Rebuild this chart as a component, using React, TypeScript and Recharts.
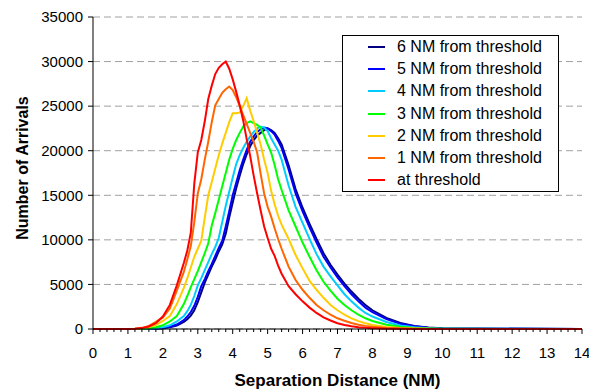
import { CartesianGrid, Legend, Line, LineChart, XAxis, YAxis } from 'recharts'

// Distância de separação (NM) — passo de 0.1 perto do pico, 0.2 nas caudas
const DIST = [
  0, 1, 1.2, 1.4, 1.6, 1.8, 2, 2.2, 2.4,
  2.6, 2.7, 2.8, 2.9, 3, 3.1, 3.2, 3.3, 3.4, 3.5, 3.6, 3.7, 3.8, 3.9, 4, 4.1, 4.2, 4.3, 4.4, 4.5, 4.6, 4.7, 4.8, 4.9, 5, 5.1, 5.2, 5.3, 5.4,
  5.6, 5.8, 6, 6.2, 6.4, 6.6, 6.8, 7, 7.2, 7.4, 7.6, 7.8, 8,
  8.4, 8.8, 9.2, 9.6, 10,
  14,
]

const NM6 = [
  0, 0, 0, 0, 10, 35, 90, 200, 390,
  800, 1100, 1500, 2100, 3000, 4100, 5200, 6100, 7000, 7800, 8700, 9500, 10700, 12500, 14200, 15800, 17200, 18500, 19600, 20500, 21200, 21700, 22000, 22300, 22500, 22300, 22000, 21400, 20700,
  18400, 15700, 13600, 11800, 10100, 8500, 7200, 6100, 5100, 4200, 3400, 2700, 2100,
  1250, 680, 350, 170, 80,
  0,
]

const NM5 = [
  0, 0, 0, 0, 15, 50, 120, 260, 500,
  1000, 1400, 1900, 2600, 3600, 4800, 5600, 6500, 7300, 8200, 9100, 9900, 11500, 13200, 15000, 16400, 17800, 19000, 20100, 21000, 21600, 22100, 22400, 22600, 22500, 22200, 21800, 21100, 20300,
  17900, 15200, 13200, 11400, 9700, 8100, 6900, 5800, 4800, 3900, 3100, 2400, 1900,
  1100, 580, 300, 140, 60,
  0,
]

const NM4 = [
  0, 0, 0, 0, 30, 90, 200, 420, 850,
  1450, 2000, 2700, 3700, 4900, 5700, 6600, 7500, 8400, 9200, 10200, 12000, 13800, 15400, 17000, 18500, 19500, 20300, 21000, 21600, 22100, 22500, 22700, 22600, 22200, 21400, 20700, 20000, 19000,
  16100, 13700, 11900, 10100, 8400, 7000, 5900, 4900, 3900, 3100, 2400, 1800, 1400,
  780, 400, 190, 90, 40,
  0,
]

const NM3 = [
  0, 0, 0, 30, 90, 200, 420, 850, 1450,
  2800, 3700, 4700, 5600, 6500, 7500, 8500, 9600, 11600, 13000, 14500, 16000, 17500, 19000, 20200, 21200, 22000, 22700, 23100, 23300, 23100, 22900, 22600, 21700, 20700, 19800, 18400, 16800, 15600,
  13300, 11500, 9700, 8100, 6600, 5300, 4300, 3400, 2700, 2100, 1600, 1200, 900,
  480, 240, 110, 50, 20,
  0,
]

const NM2 = [
  0, 0, 20, 80, 220, 450, 900, 1450, 2800,
  4600, 5700, 6900, 8100, 9000, 9900, 12500, 15000, 16500, 18000, 19500, 20800, 22000, 23200, 24200, 24200, 24300, 25000, 25900, 24500, 23300, 22000, 20700, 19000, 17500, 15500, 14000, 12700, 11700,
  10100, 8300, 6800, 5400, 4400, 3500, 2700, 2100, 1600, 1200, 880, 640, 460,
  230, 110, 50, 20, 5,
  0,
]

const NM1 = [
  0, 0, 40, 130, 350, 800, 1300, 2300, 4300,
  6400, 7800, 9300, 12000, 15200, 16800, 19000, 21000, 23200, 25100, 25800, 26500, 26900, 27200, 26800, 26000, 25000, 24000, 23000, 22000, 21000, 19800, 17400, 15200, 13700, 12600, 11300, 10100, 9000,
  7000, 5500, 4400, 3500, 2700, 2100, 1600, 1200, 930, 680, 480, 350, 250,
  120, 60, 25, 10, 0,
  0,
]

const NM0 = [
  0, 0, 30, 100, 280, 650, 1400, 2700, 4900,
  7400, 8800, 10800, 16300, 19800, 21200, 23300, 25800, 27300, 28600, 29300, 29700, 30000, 29200, 28000, 26600, 25100, 23400, 21300, 19400, 17200, 15200, 13300, 11500, 10200, 9000, 8200, 7100, 6200,
  4800, 3900, 3100, 2400, 1800, 1300, 950, 650, 450, 300, 200, 130, 90,
  40, 20, 10, 0, 0,
  0,
]

const Y_TICKS = [0, 5000, 10000, 15000, 20000, 25000, 30000, 35000]
// marcas do eixo X a cada 0.2 NM; rótulo só nos inteiros
const X_TICKS = Array.from({ length: 71 }, (_, i) => i / 5)

const SERIES = [
  { key: 'nm6', label: '6 NM from threshold', color: '#000080', values: NM6 },
  { key: 'nm5', label: '5 NM from threshold', color: '#0000FF', values: NM5 },
  { key: 'nm4', label: '4 NM from threshold', color: '#00CCFF', values: NM4 },
  { key: 'nm3', label: '3 NM from threshold', color: '#00FF00', values: NM3 },
  { key: 'nm2', label: '2 NM from threshold', color: '#FFCC00', values: NM2 },
  { key: 'nm1', label: '1 NM from threshold', color: '#FF6600', values: NM1 },
  { key: 'nm0', label: 'at threshold', color: '#FF0000', values: NM0 },
]

const FONT = '"Liberation Sans", Arial, sans-serif'

const rows = DIST.map((d, i) => {
  const r: Record<string, number> = { d }
  for (const s of SERIES) r[s.key] = s.values[i]
  return r
})

function XTick({ x, y, payload }: { x?: number; y?: number; payload?: { value: number } }) {
  if (x === undefined || y === undefined || !payload) return null
  const v = payload.value
  const major = Math.abs(v - Math.round(v)) < 1e-6
  return (
    <g>
      <line x1={x} x2={x} y1={y} y2={y + (major ? 5 : 3)} stroke="#000" />
      {major && (
        <text x={x} y={y + 29} textAnchor="middle" fontSize={15} fontFamily={FONT} fill="#000">
          {Math.round(v)}
        </text>
      )}
    </g>
  )
}

function LegendBox() {
  return (
    <div
      style={{
        width: 217,
        height: 157,
        boxSizing: 'border-box',
        border: '1px solid #000',
        background: '#fff',
        fontFamily: FONT,
        fontSize: 16,
        color: '#000',
      }}
    >
      {SERIES.map((s) => (
        <div key={s.key} style={{ display: 'flex', alignItems: 'center', height: 22.2, whiteSpace: 'nowrap' }}>
          <span style={{ display: 'inline-block', width: 17, height: 2, background: s.color, marginLeft: 25, marginRight: 12 }} />
          <span>{s.label}</span>
        </div>
      ))}
    </div>
  )
}

export default function App() {
  return (
    <div style={{ position: 'absolute', left: 0, top: 0, background: '#fff' }}>
      <LineChart width={589} height={389} data={rows} margin={{ top: 17, right: 7, bottom: 0, left: 0 }}>
        <CartesianGrid vertical={false} stroke="#A0A0A0" strokeDasharray="7 4" />
        <XAxis
          dataKey="d"
          type="number"
          domain={[0, 14]}
          ticks={X_TICKS}
          interval={0}
          height={60}
          tickSize={0}
          tickMargin={0}
          tickLine={false}
          tick={<XTick />}
          axisLine={{ stroke: '#000' }}
          label={{
            content: ({ viewBox }: any) => (
              <text
                x={viewBox.x + viewBox.width / 2}
                y={viewBox.y + 57}
                textAnchor="middle"
                fontSize={17}
                fontWeight="bold"
                fontFamily={FONT}
                fill="#000"
              >
                Separation Distance (NM)
              </text>
            ),
          }}
        />
        <YAxis
          type="number"
          domain={[0, 35000]}
          ticks={Y_TICKS}
          interval={0}
          width={93}
          tickSize={5}
          tickMargin={5}
          tickLine={{ stroke: '#000' }}
          axisLine={{ stroke: '#000' }}
          tick={{ fontSize: 15, fill: '#000', fontFamily: FONT }}
          label={{
            content: ({ viewBox }: any) => {
              const cx = viewBox.x + 22
              const cy = viewBox.y + viewBox.height / 2 - 5
              return (
                <text
                  x={cx}
                  y={cy}
                  transform={`rotate(-90 ${cx} ${cy})`}
                  textAnchor="middle"
                  dominantBaseline="central"
                  fontSize={16}
                  fontWeight="bold"
                  fontFamily={FONT}
                  fill="#000"
                >
                  Number of Arrivals
                </text>
              )
            },
          }}
        />
        <Legend
          layout="vertical"
          align="center"
          verticalAlign="middle"
          content={() => <LegendBox />}
          wrapperStyle={{ left: 342, top: 35, width: 217, height: 157 }}
        />
        {SERIES.map((s) => (
          <Line
            key={s.key}
            type="linear"
            dataKey={s.key}
            name={s.label}
            stroke={s.color}
            strokeWidth={2}
            dot={false}
            activeDot={false}
            isAnimationActive={false}
          />
        ))}
      </LineChart>
    </div>
  )
}
